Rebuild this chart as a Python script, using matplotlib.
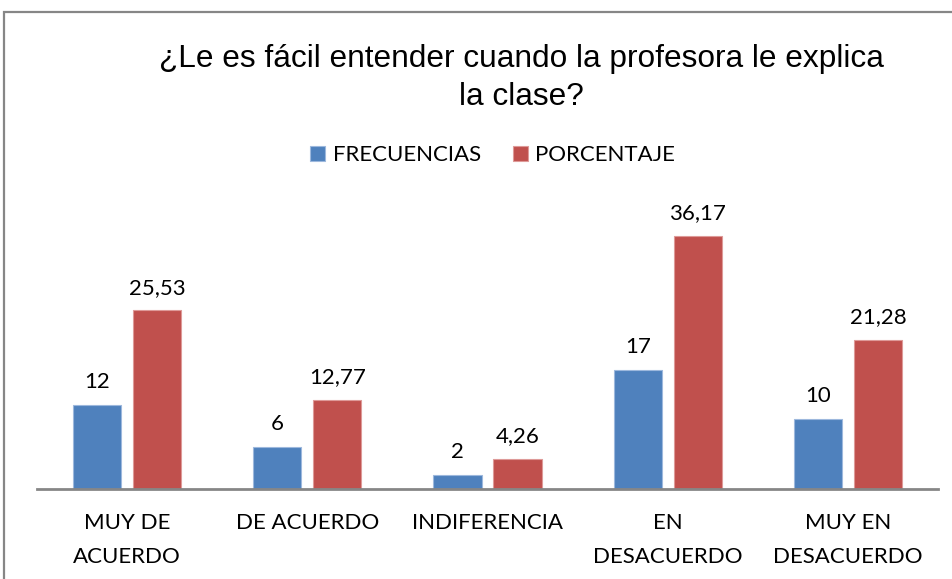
import matplotlib
matplotlib.use("Agg")
import matplotlib.pyplot as plt
import numpy as np
from matplotlib.patches import Rectangle

categories = ["MUY DE\nACUERDO", "DE ACUERDO", "INDIFERENCIA", "EN\nDESACUERDO", "MUY EN\nDESACUERDO"]
frecuencias = [12, 6, 2, 17, 10]
porcentaje = [25.53, 12.77, 4.26, 36.17, 21.28]
porc_labels = ["25,53", "12,77", "4,26", "36,17", "21,28"]
series_names = ["FRECUENCIAS", "PORCENTAJE"]
title = "¿Le es fácil entender cuando la profesora le explica\nla clase?"

BLUE = "#4F81BD"
RED = "#C0504D"
W, H = 952, 579
fig = plt.figure(figsize=(W / 100, H / 100), dpi=100)
fig.patch.set_facecolor("white")

def fx(px):
    return px / W

def fy(py):
    return 1 - py / H

# outer chart border (cropped at right and bottom)
fig.patches.append(Rectangle((fx(4), fy(600)), fx(1000), fy(12) - fy(600),
                             transform=fig.transFigure, fill=False,
                             edgecolor="#868686", linewidth=1.6, zorder=0))

ax = fig.add_axes([fx(37), fy(489), fx(938) - fx(37), fy(200) - fy(489)])
ax.set_facecolor("none")
x = np.arange(len(categories))
bw = 0.267
b1 = ax.bar(x - 0.1667, frecuencias, bw, color=BLUE, edgecolor="#9DB8DD", linewidth=0.8, zorder=2)
b2 = ax.bar(x + 0.1667, porcentaje, bw, color=RED, edgecolor="#DE9A98", linewidth=0.8, zorder=2)
ax.set_xlim(-0.5, 4.5)
ax.set_ylim(0, 41.3)

font = "Lato"
FS = 16
for xi, v in zip(x, frecuencias):
    ax.annotate(str(v), (xi - 0.1667, v), xytext=(0, 12), textcoords="offset points",
                ha="center", va="baseline", fontsize=FS, family=font, color="black")
for xi, v, lab in zip(x, porcentaje, porc_labels):
    ax.annotate(lab, (xi + 0.1667, v), xytext=(0, 12), textcoords="offset points",
                ha="center", va="baseline", fontsize=FS, family=font, color="black")

for s in ["top", "right", "left"]:
    ax.spines[s].set_visible(False)
ax.spines["bottom"].set_color("#868686")
ax.spines["bottom"].set_linewidth(2)
ax.set_yticks([])
ax.set_xticks(x)
ax.set_xticklabels(categories, fontsize=FS, family=font, linespacing=1.9)
ax.tick_params(axis="x", length=0, pad=17)

fig.text(fx(521), fy(78), title, ha="center", va="center", fontsize=22.8,
         family="Liberation Sans", linespacing=1.38)

leg = fig.legend([b1, b2], series_names, loc="center", bbox_to_anchor=(fx(492.5), fy(155)),
                 ncol=2, frameon=False, prop={"family": font, "size": FS},
                 handlelength=0.68, handleheight=0.68, handletextpad=0.32, columnspacing=1.44)

fig.savefig("out.png", dpi=100)
